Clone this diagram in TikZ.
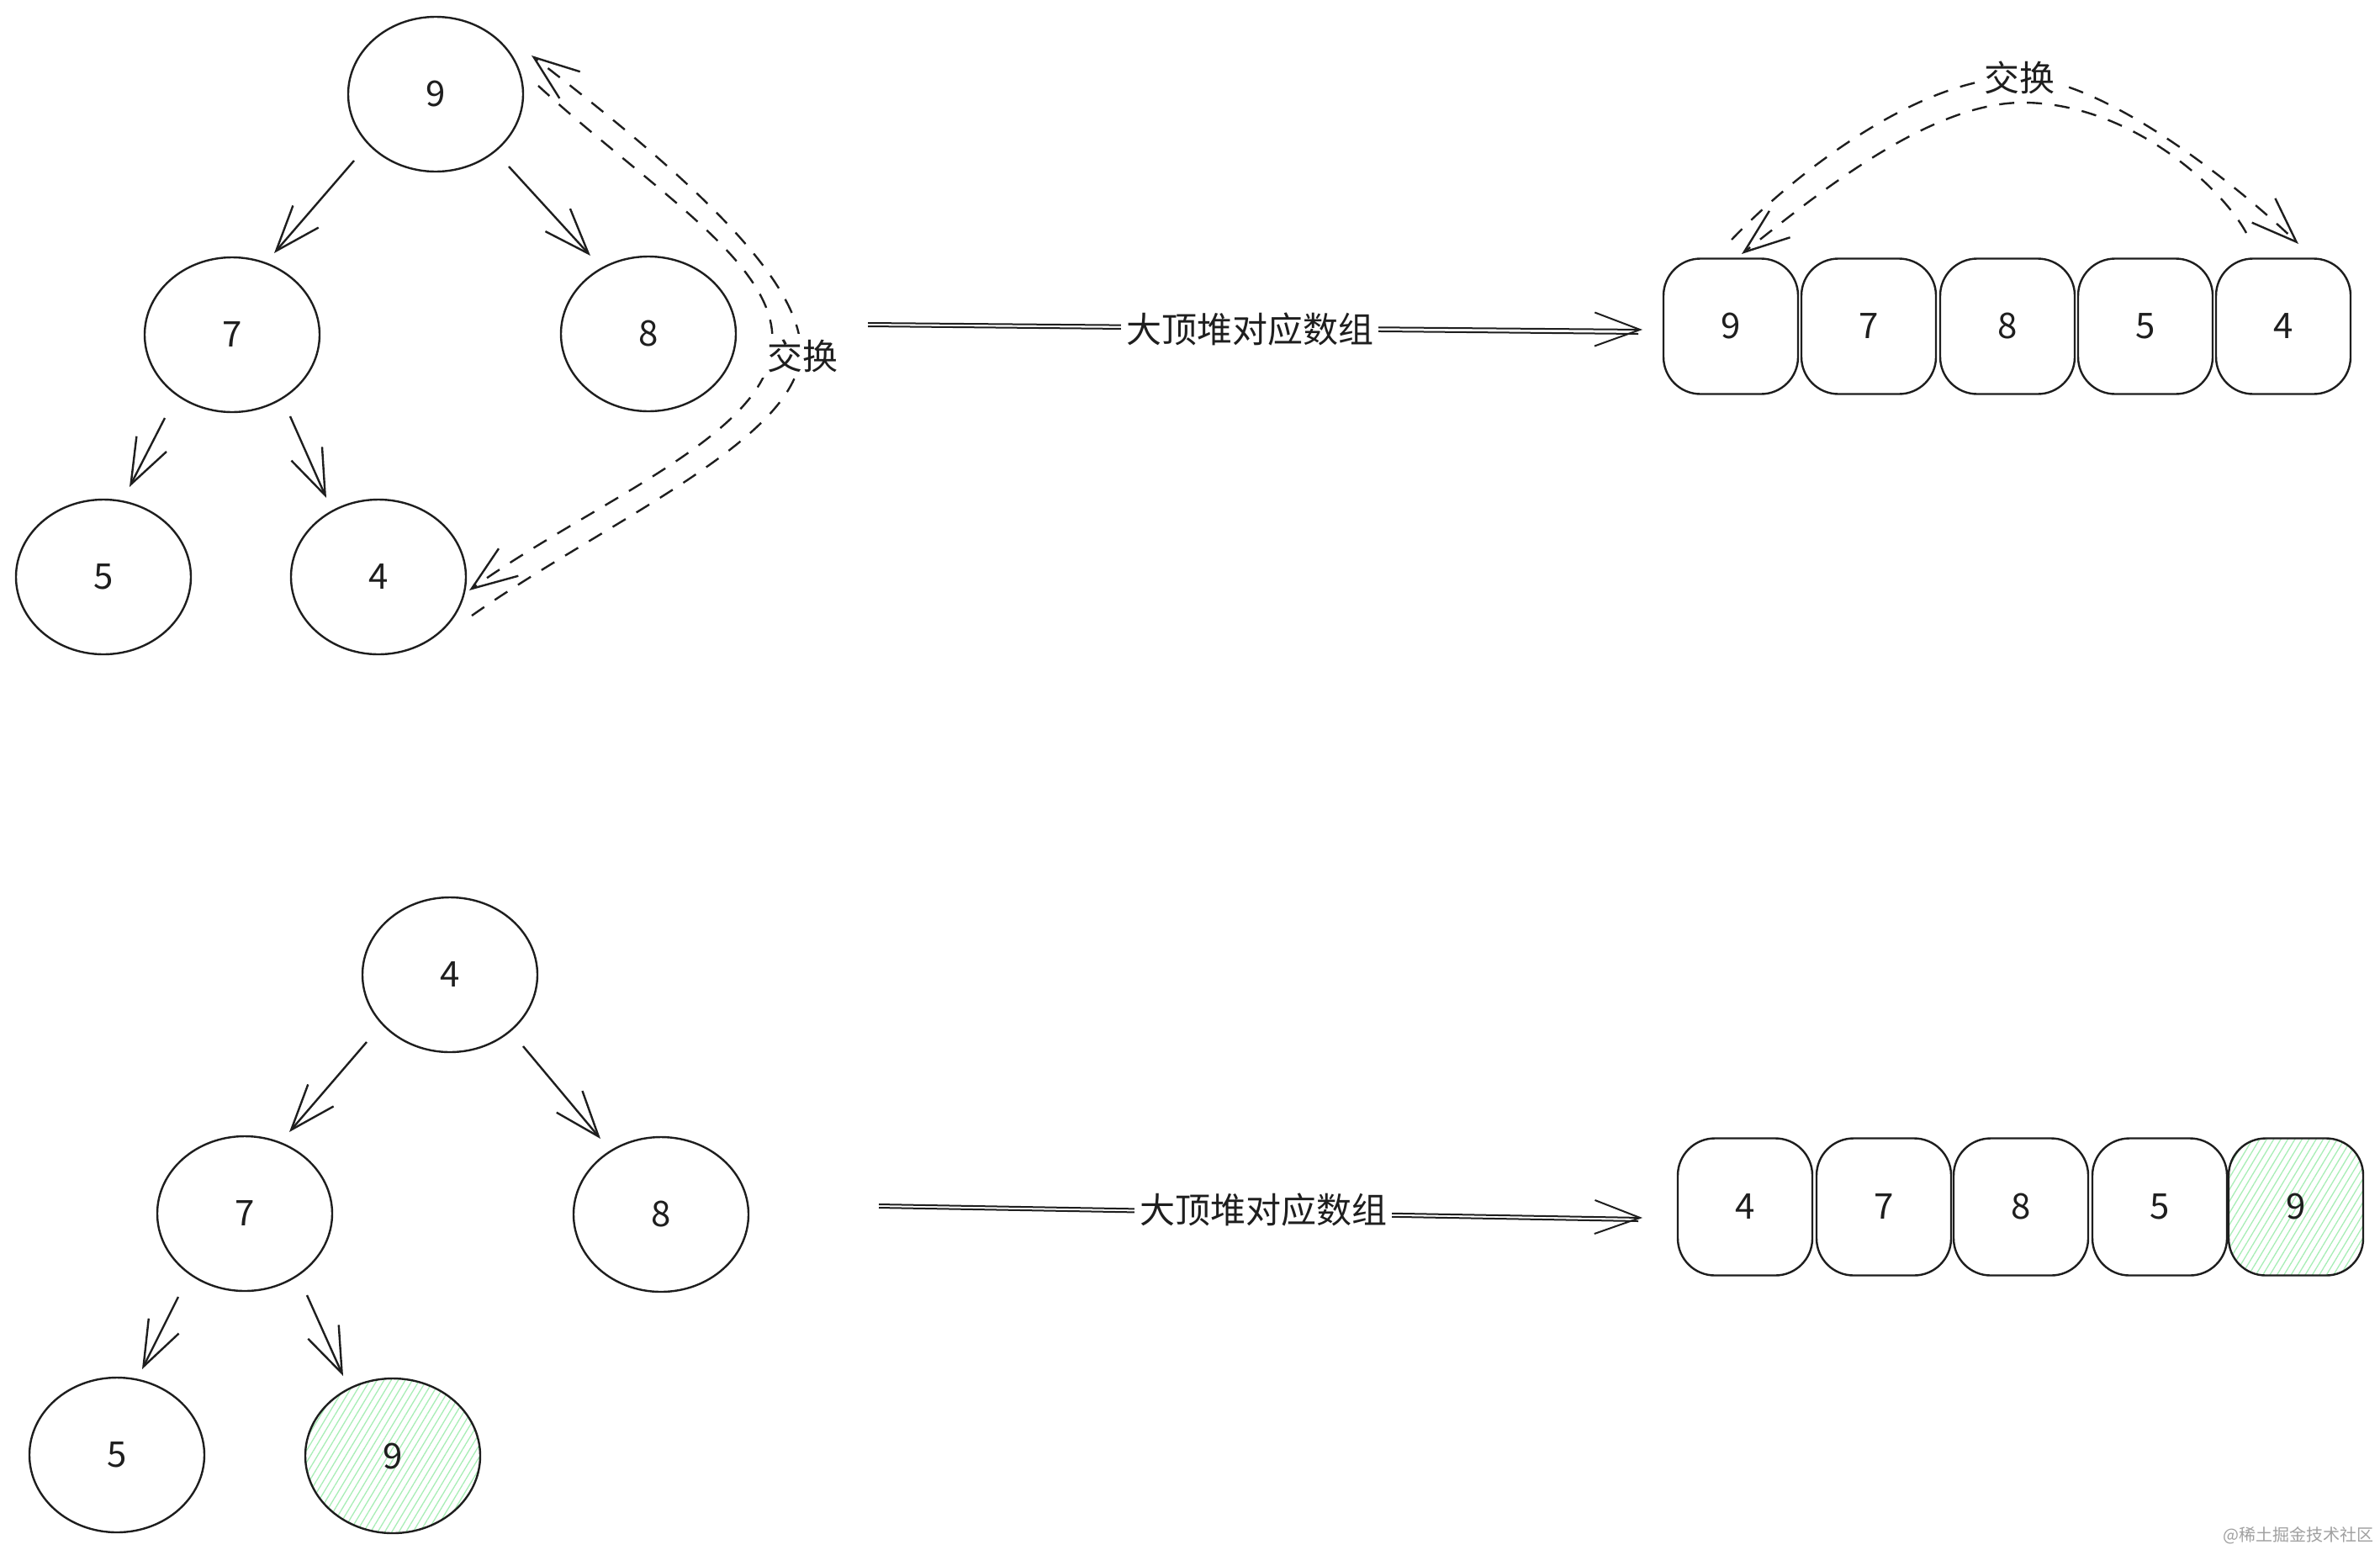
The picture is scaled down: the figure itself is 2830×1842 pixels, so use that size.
\documentclass[tikz,border=0pt]{standalone}
\usepackage{fontspec}
\newfontfamily\cjk{Noto Sans CJK SC}
\usetikzlibrary{shapes.geometric,arrows.meta,patterns.meta,calc}
\definecolor{ink}{HTML}{1E1E1E}
\definecolor{hatch}{HTML}{A8EEB6}
\definecolor{wm}{HTML}{A0A0A0}
\begin{document}
\begin{tikzpicture}[x=0.5pt,y=-0.5pt,
  sk/.style={draw=ink,line width=1.2pt},
  txt/.style={font=\cjk\fontsize{21}{25}\selectfont,text=ink},
  tnode/.style={sk,txt,ellipse,minimum width=104pt,minimum height=92pt,inner sep=0pt},
  cell/.style={sk,txt,rectangle,rounded corners=22pt,minimum width=80pt,minimum height=80.5pt,inner sep=0pt},
  hl/.style={pattern={Lines[angle=59,distance=3.6pt,line width=0.65pt]},pattern color=hatch},
  tip/.style={-{Straight Barb[length=27pt,width=20pt]}},
  edge/.style={sk,tip},
  swap/.style={sk,dash pattern=on 9pt off 7.5pt,tip},
  dbl/.style={draw=ink,line width=1pt},
  lbl/.style={txt,fill=white,inner sep=3pt},
]
\useasboundingbox (0,0) rectangle (2830,1842);
\fill[white] (0,0) rectangle (2830,1842);

% ---------- top tree ----------
\node[tnode] (t9) at (518,112) {9};
\node[tnode] (t7) at (276,398) {7};
\node[tnode] (t8) at (771,397) {8};
\node[tnode] (t5) at (123,686) {5};
\node[tnode] (t4) at (450,686) {4};
\draw[edge] ($(t9)+(-97,79)$) -- ($(t7)+(50,-97)$);
\draw[edge] ($(t9)+(87,86)$) -- ($(t8)+(-69,-93)$);
\draw[edge] ($(t7)+(-80,99)$) -- ($(t5)+(31,-107)$);
\draw[edge] ($(t7)+(69,97)$) -- ($(t4)+(-62,-94)$);

% swap arrows between 9 and 4
\coordinate (sw1a) at (561,732);
\coordinate (sw1b) at (632,66);
\coordinate (sw2a) at (640,102);
\coordinate (sw2b) at (558,702);
\draw[swap] (sw1a) .. controls (720,620) and (955,520) .. (952,415) .. controls (950,320) and (780,180) .. (sw1b);
\draw[swap] (sw2a) .. controls (780,230) and (935,320) .. (917,418) .. controls (905,520) and (700,600) .. (sw2b);
\node[lbl] (x1) at (954,423) {交换};

% ---------- top mapping arrow ----------
\coordinate (h1a) at (1032,384);
\coordinate (h1b) at (1953,392);
\coordinate (h1c) at (1032,388);
\coordinate (h1d) at (1948,397);
\draw[dbl,tip] (h1a) -- (h1b);
\draw[dbl] (h1c) -- (h1d);
\node[lbl] (m1) at (1486,392) {大顶堆对应数组};

% ---------- top array ----------
\node[cell] (a1) at (2058,388) {9};
\node[cell] (a2) at (2222,388) {7};
\node[cell] (a3) at (2387,388) {8};
\node[cell] (a4) at (2551,388) {5};
\node[cell] (a5) at (2715,388) {4};

\coordinate (ar1a) at (2059,285);
\coordinate (ar1b) at (2733,290);
\coordinate (ar2a) at (2671,277);
\coordinate (ar2b) at (2071,302);
\draw[swap] (ar1a) .. controls (2130,210) and (2280,92) .. (2400,92) .. controls (2500,92) and (2660,220) .. (ar1b);
\draw[swap] (ar2a) .. controls (2640,220) and (2530,122) .. (2405,122) .. controls (2290,122) and (2150,240) .. (ar2b);
\node[lbl] (x2) at (2401,92) {交换};

% ---------- bottom tree ----------
\node[tnode] (u4) at (535,1159) {4};
\node[tnode] (u7) at (291,1443) {7};
\node[tnode] (u8) at (786,1444) {8};
\node[tnode] (u5) at (139,1730) {5};
\node[tnode,hl] (u9) at (467,1731) {9};
\draw[edge] ($(u4)+(-99,80)$) -- ($(u7)+(53,-97)$);
\draw[edge] ($(u4)+(87,85)$) -- ($(u8)+(-72,-90)$);
\draw[edge] ($(u7)+(-79,99)$) -- ($(u5)+(30,-102)$);
\draw[edge] ($(u7)+(74,97)$) -- ($(u9)+(-59,-95)$);

% ---------- bottom mapping arrow ----------
\coordinate (h2a) at (1045,1432);
\coordinate (h2b) at (1953,1448);
\coordinate (h2c) at (1045,1436);
\coordinate (h2d) at (1948,1452);
\draw[dbl,tip] (h2a) -- (h2b);
\draw[dbl] (h2c) -- (h2d);
\node[lbl] (m2) at (1502,1438) {大顶堆对应数组};

% ---------- bottom array ----------
\node[cell,minimum height=81.5pt] (b1) at (2075,1435) {4};
\node[cell,minimum height=81.5pt] (b2) at (2240,1435) {7};
\node[cell,minimum height=81.5pt] (b3) at (2403,1435) {8};
\node[cell,minimum height=81.5pt] (b4) at (2568,1435) {5};
\node[cell,minimum height=81.5pt,hl] (b5) at (2730,1435) {9};

% watermark
\node[font=\cjk\fontsize{10}{12}\selectfont,text=wm,anchor=east,inner sep=0pt] (wm) at (2823,1826) {@稀土掘金技术社区};
\end{tikzpicture}
\end{document}
